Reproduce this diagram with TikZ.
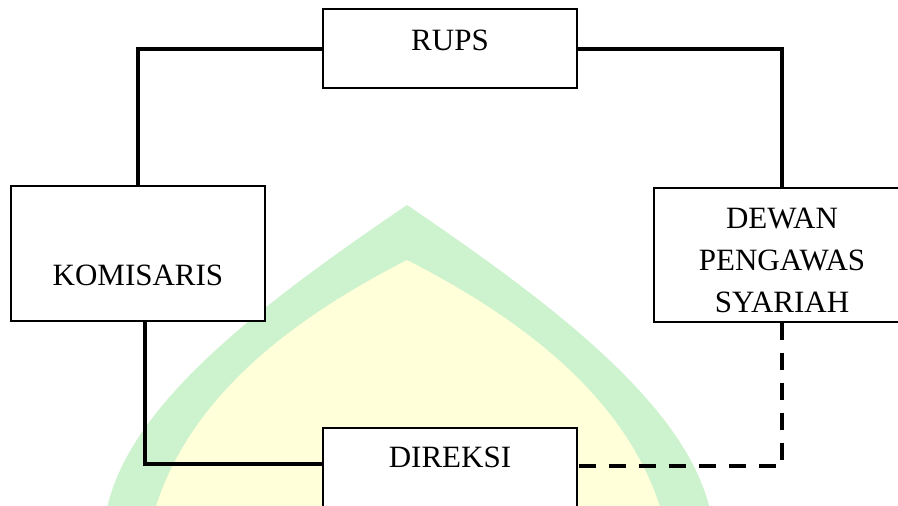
\documentclass[tikz,border=0pt]{standalone}
\usepackage{fontspec}
\setmainfont{Liberation Serif}
\usetikzlibrary{calc}
\definecolor{markgreen}{HTML}{CDF2CE}
\definecolor{markyellow}{HTML}{FFFFD9}
\begin{document}
\begin{tikzpicture}[x=1pt,y=-1pt,
  unitbox/.style={rectangle, draw=black, line width=1.3pt, fill=white, inner sep=0pt},
  lbl/.style={font=\fontsize{31}{42}\selectfont, inner sep=0pt, align=center},
  link/.style={line width=4pt},
  dlink/.style={line width=4pt, dash pattern=on 17pt off 13pt}]
\clip (0,0) rectangle (898,506);
\fill[white] (0,0) rectangle (898,506);

% faint arch emblem in the background
\fill[markgreen] (407,205) .. controls (260,305) and (120,410) .. (105,520)
  -- (712,520) .. controls (694,410) and (554,305) .. (407,205) -- cycle;
\fill[markyellow] (407,260) .. controls (300,315) and (185,395) .. (152,520)
  -- (664,520) .. controls (630,395) and (514,315) .. (407,260) -- cycle;

% boxes
\node[unitbox, minimum width=254pt, minimum height=79pt] (rups) at (450,48.5) {};
\node[lbl] (rupst) at (450,40) {RUPS};

\node[unitbox, minimum width=254pt, minimum height=135pt] (kom) at (138,253.5) {};
\node[lbl] (komt) at (138,275) {KOMISARIS};

\node[unitbox, minimum width=256pt, minimum height=134pt] (dewan) at (782,255) {};
\node[lbl] (dewant) at (782,260) {DEWAN\\PENGAWAS\\SYARIAH};

\node[unitbox, minimum width=254pt, minimum height=92pt] (dir) at (450,474) {};
\node[lbl] (dirt) at (450,457) {DIREKSI};

% connector end points on the box sides
\coordinate (dirL) at ($(dir.north west)+(0,37)$);
\coordinate (dirR) at ($(dir.north east)+(0,39)$);
\coordinate (komS) at ($(kom.south)+(7,0)$);

% solid lines of authority
\draw[link] (rups.west) -| (kom.north);
\draw[link] (rups.east) -| (dewan.north);
\draw[link] (komS) |- (dirL);

% dashed line of supervision
\draw[dlink] (dewan.south) |- (dirR);
\end{tikzpicture}
\end{document}
